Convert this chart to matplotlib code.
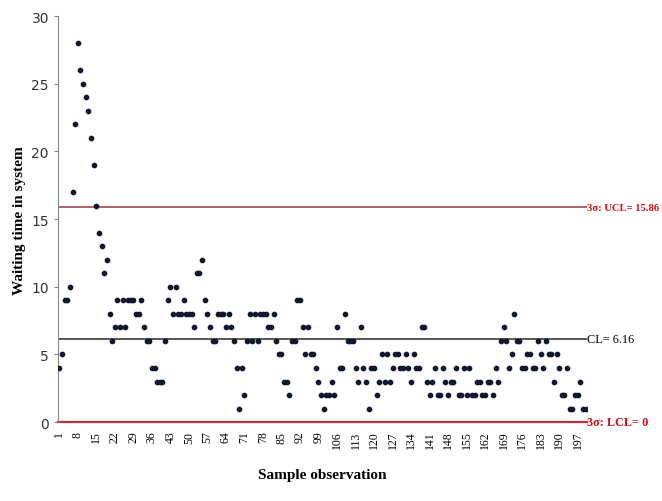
import matplotlib
matplotlib.use("Agg")
import matplotlib.pyplot as plt

# waiting time per sample observation
waiting = [
    4, 5, 9, 9, 10, 17, 22, 28, 26, 25,
    24, 23, 21, 19, 16, 14, 13, 11, 12, 8,
    6, 7, 9, 7, 9, 7, 9, 9, 9, 8,
    8, 9, 7, 6, 6, 4, 4, 3, 3, 3,
    6, 9, 10, 8, 10, 8, 8, 9, 8, 8,
    8, 7, 11, 11, 12, 9, 8, 7, 6, 6,
    8, 8, 8, 7, 8, 7, 6, 4, 1, 4,
    2, 6, 8, 6, 8, 6, 8, 8, 8, 7,
    7, 8, 6, 5, 5, 3, 3, 2, 6, 6,
    9, 9, 7, 5, 7, 5, 5, 4, 3, 2,
    1, 2, 2, 3, 2, 7, 4, 4, 8, 6,
    6, 6, 4, 3, 7, 4, 3, 1, 4, 4,
    2, 3, 5, 3, 5, 3, 4, 5, 5, 4,
    4, 5, 4, 3, 5, 4, 4, 7, 7, 3,
    2, 3, 4, 2, 2, 4, 3, 2, 3, 3,
    4, 2, 2, 4, 2, 4, 2, 2, 3, 3,
    2, 2, 3, 3, 2, 4, 3, 6, 7, 6,
    4, 5, 8, 6, 6, 4, 4, 5, 5, 4,
    4, 6, 5, 4, 6, 5, 5, 3, 5, 4,
    2, 2, 4, 1, 1, 2, 2, 3, 1, 1,
]
obs = list(range(1, len(waiting) + 1))
xtick_labels = list(range(1, len(waiting) + 1, 7))

ucl = 15.86
cl = 6.16
lcl = 0

serif = ["Liberation Serif", "DejaVu Serif"]

fig = plt.figure(figsize=(6.62, 5.02), dpi=100)
ax = fig.add_axes([0.0876, 0.157, 0.799, 0.809])

ax.plot(obs, waiting, "o", color="#101830", markersize=3.1, zorder=3)

ax.axhline(ucl, color="#b06068", linewidth=1.4, zorder=2)
ax.axhline(cl, color="#555555", linewidth=1.4, zorder=2)
ax.axhline(lcl, color="#c0303a", linewidth=1.6, zorder=2, clip_on=False)

ax.text(len(waiting) + 0.4, ucl, "3σ: UCL= 15.86", color="#d01010",
        fontsize=7.7, family=serif, va="center", ha="left", fontweight="bold")
ax.text(len(waiting) + 0.4, cl, "CL= 6.16", color="black",
        fontsize=8.8, family=serif, va="center", ha="left")
ax.text(len(waiting) + 0.4, lcl, "3σ: LCL= 0", color="#d01010",
        fontsize=8.8, family=serif, va="center", ha="left", fontweight="bold")

ax.set_xlim(0.5, len(waiting) + 0.5)
ax.set_ylim(0, 30)
ax.set_yticks(range(0, 31, 5))
ax.set_xticks(xtick_labels)
ax.set_xticklabels([str(v) for v in xtick_labels], rotation=90,
                   family=serif, fontsize=8.5)
ax.tick_params(axis="x", length=0, pad=6)
ax.tick_params(axis="y", length=3, color="#888888", labelsize=10, labelcolor="#333333")

for s in ["top", "right"]:
    ax.spines[s].set_visible(False)
ax.spines["left"].set_color("#888888")
ax.spines["bottom"].set_visible(False)

ax.set_ylabel("Waiting time in system", family=serif, fontweight="bold", fontsize=11)
ax.set_xlabel("Sample observation", family=serif, fontweight="bold", fontsize=11,
              labelpad=14)

fig.savefig("out.png", dpi=100)
